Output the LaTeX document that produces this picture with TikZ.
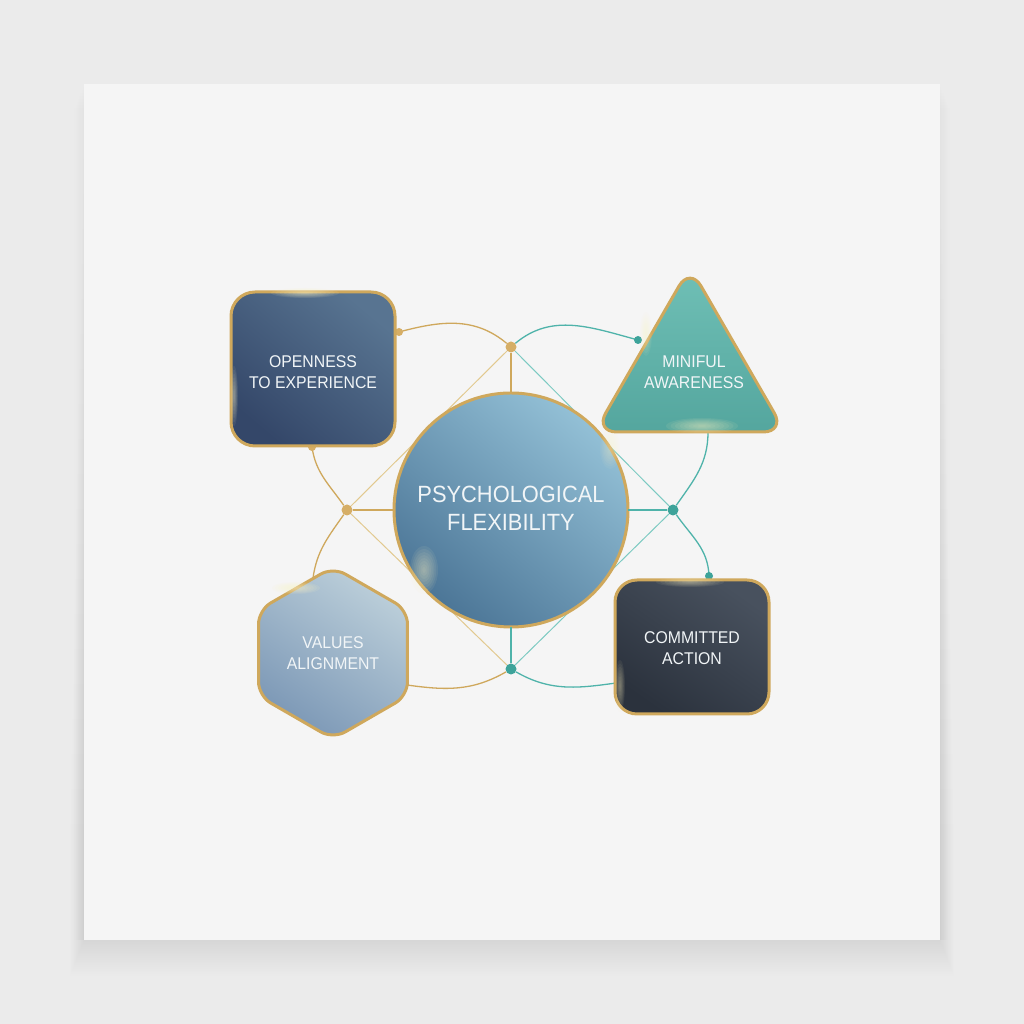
\documentclass[tikz,border=0pt]{standalone}
\usepackage{fontspec}
\setmainfont[FakeStretch=0.93]{Liberation Sans}
\usetikzlibrary{shapes.geometric}
\definecolor{bgcol}{HTML}{EBEBEB}
\definecolor{cardcol}{HTML}{F5F5F5}
\definecolor{gold}{HTML}{CFA85C}
\definecolor{goldthin}{HTML}{E2C98F}
\definecolor{golddot}{HTML}{D6AE66}
\definecolor{teal}{HTML}{4FB3AA}
\definecolor{tealthin}{HTML}{7CCAC2}
\definecolor{tealdot}{HTML}{3DA39A}
\definecolor{txt}{HTML}{F1F5F7}
\definecolor{glowcol}{HTML}{FFF4C4}
\definecolor{coreA}{HTML}{93C0D6}
\definecolor{coreB}{HTML}{4C7697}
\definecolor{openA}{HTML}{587491}
\definecolor{openB}{HTML}{344769}
\definecolor{triA}{HTML}{70C0B6}
\definecolor{triB}{HTML}{54A69E}
\definecolor{hexA}{HTML}{BCCFDA}
\definecolor{hexB}{HTML}{7C98B6}
\definecolor{actA}{HTML}{48515E}
\definecolor{actB}{HTML}{2B323D}
\newcommand\softglow[5]{%
  \foreach \k in {1,...,8}{\fill[glowcol, opacity=#5] (#1,#2) ellipse ({#3*\k/8} and {#4*\k/8});}}
\tikzset{
  shapebase/.style={draw=gold, line width=3pt, inner sep=0pt, outer sep=0pt},
  boxtext/.style={text=txt, font=\fontsize{17}{21}\selectfont, align=center, inner sep=0pt},
  goldbar/.style={draw=gold, line width=2pt},
  tealbar/.style={draw=teal, line width=2pt},
  goldline/.style={draw=goldthin, line width=1pt},
  tealline/.style={draw=tealthin, line width=1pt},
  goldcurve/.style={draw=gold, line width=1.3pt},
  tealcurve/.style={draw=teal, line width=1.3pt},
  jdot/.style={circle, inner sep=0pt, minimum size=11pt},
  edot/.style={circle, inner sep=0pt, minimum size=8pt}
}
\begin{document}
\begin{tikzpicture}[x=1pt,y=1pt]
\useasboundingbox (0,0) rectangle (1024,1024);
\fill[bgcol] (0,0) rectangle (1024,1024);
% card shadow
\foreach \i in {1,...,20}{
  \fill[black, opacity=0.005] (84-\i*0.7, 84-\i*1.8) rectangle (940+\i*0.7, 900-\i*35);
}
\foreach \i in {1,...,8}{
  \fill[black, opacity=0.004] (84-\i*1.2, 84) rectangle (940+\i*1.2, 940-\i*3);
}
\fill[cardcol] (84,84) rectangle (940,940);

% junctions and end points
\node[jdot, fill=golddot] (jT) at (511,677) {};
\node[jdot, fill=golddot] (jL) at (347,514) {};
\node[jdot, fill=tealdot] (jR) at (673,514) {};
\node[jdot, fill=tealdot] (jB) at (511,355) {};
\coordinate (dA) at (399,692);
\coordinate (dB) at (638,684);
\coordinate (dC) at (312,577);
\coordinate (dD) at (313,446);
\coordinate (dE) at (708,592);
\coordinate (dF) at (709,448);
\coordinate (dG) at (407,339);
\coordinate (dH) at (616,341);

% thin diamond lines
\draw[goldline] (jT) -- (jL);
\draw[goldline] (jL) -- (jB);
\draw[tealline] (jT) -- (jR);
\draw[tealline] (jB) -- (jR);

% curves
\draw[goldcurve] (jT) to[out=140,in=15] (dA);
\draw[tealcurve] (jT) to[out=40,in=165] (dB);
\draw[goldcurve] (jL) to[out=125,in=-82] (dC);
\draw[goldcurve] (jL) to[out=-125,in=82] (dD);
\draw[tealcurve] (jR) to[out=55,in=-90] (dE);
\draw[tealcurve] (jR) to[out=-55,in=92] (dF);
\draw[goldcurve] (jB) to[out=-150,in=-8] (dG);
\draw[tealcurve] (jB) to[out=-30,in=-172] (dH);

% end dots
\node[edot, fill=golddot] (eA) at (dA) {};
\node[edot, fill=golddot] (eC) at (dC) {};
\node[edot, fill=tealdot] (eB) at (dB) {};
\node[edot, fill=tealdot] (eF) at (dF) {};

% central circle
\node[shapebase, circle, minimum size=234pt, shading=axis, top color=coreA, bottom color=coreB, shading angle=-40] (core) at (511,514) {};
\softglow{424}{454}{14}{24}{0.07}
\softglow{610}{575}{10}{20}{0.05}

% connector bars to circle
\draw[goldbar] (jT) -- (core);
\draw[goldbar] (jL) -- (core);
\draw[tealbar] (jR) -- (core);
\draw[tealbar] (jB) -- (core);

% openness box
\node[shapebase, rectangle, rounded corners=24pt, minimum width=164pt, minimum height=154pt,
  shading=axis, top color=openA, bottom color=openB, shading angle=-40] (open) at (313,655) {};
\softglow{305}{731}{34}{5}{0.09}
\softglow{234}{628}{4}{30}{0.07}
\node[boxtext] (openT) at (313,652) {OPENNESS\\TO EXPERIENCE};

% mindful triangle
\node[shapebase, regular polygon, regular polygon sides=3, minimum size=220pt, rounded corners=22pt,
  shading=axis, top color=triA, bottom color=triB] (tri) at (690,647) {};
\softglow{702}{598}{36}{8}{0.08}
\softglow{646}{690}{6}{22}{0.06}
\node[boxtext] (triT) at (694,652) {MINIFUL\\AWARENESS};

% values hexagon
\node[shapebase, regular polygon, regular polygon sides=6, shape border rotate=30, minimum size=172pt, rounded corners=14pt,
  shading=axis, top color=hexA, bottom color=hexB, shading angle=-35] (hex) at (333,371) {};
\softglow{296}{436}{24}{6}{0.09}
\node[boxtext] (hexT) at (333,371) {VALUES\\ALIGNMENT};

% committed box
\node[shapebase, rectangle, rounded corners=22pt, minimum width=154pt, minimum height=134pt,
  shading=axis, top color=actA, bottom color=actB, shading angle=-35] (act) at (692,377) {};
\softglow{690}{442}{34}{5}{0.07}
\softglow{620}{338}{5}{26}{0.06}
\node[boxtext] (actT) at (692,376) {COMMITTED\\ACTION};

% centre text
\node[text=txt, font=\fontsize{23.5}{28}\selectfont, align=center, inner sep=0pt] (coreT) at (511,516) {PSYCHOLOGICAL\\FLEXIBILITY};
\end{tikzpicture}
\end{document}
